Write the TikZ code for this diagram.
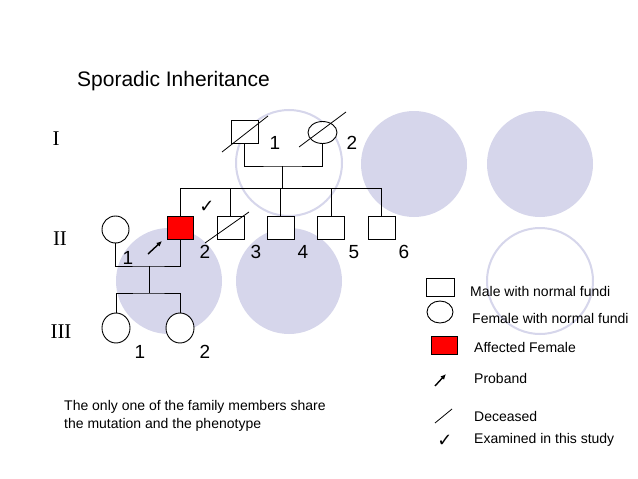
\documentclass[tikz,border=0pt]{standalone}
\usepackage{fontspec}
\setmainfont{Liberation Sans}
\newfontfamily\romfont{Liberation Serif}
\newfontfamily\symfont{DejaVu Sans}
\usetikzlibrary{shapes.geometric,arrows.meta}
\definecolor{lav}{RGB}{214,214,235}
\definecolor{affred}{RGB}{255,0,0}
\begin{document}
\begin{tikzpicture}[x=1pt,y=-1pt,
  male/.style={draw,rectangle,fill=white,minimum width=27pt,minimum height=23pt,inner sep=0pt,line width=0.9pt},
  female/.style={draw,ellipse,fill=white,minimum width=28pt,minimum height=27pt,inner sep=0pt,line width=0.9pt},
  affected/.style={male,fill=affred},
  numlab/.style={font=\fontsize{19}{19}\selectfont,inner sep=0pt},
  genlab/.style={font=\romfont\fontsize{21}{21}\selectfont,inner sep=0pt},
  legtxt/.style={font=\fontsize{14}{16}\selectfont,anchor=west,inner sep=0pt},
  link/.style={line width=0.9pt},
  slash/.style={line width=0.8pt},
  probarrow/.style={line width=1.4pt,-{Latex[length=5.5pt,width=5pt]}},
  checkmk/.style={font=\symfont\fontsize{18}{18}\selectfont,inner sep=0pt}
]
\useasboundingbox (0,0) rectangle (638,479);
\fill[white] (0,0) rectangle (638,479);
% background decorative circles
\draw[lav,line width=2pt,fill=white] (289,163) circle[radius=53pt];
\fill[lav] (414,164) circle[radius=53pt];
\fill[lav] (540,164) circle[radius=53pt];
\fill[lav] (169,281) circle[radius=53pt];
\fill[lav] (289,281) circle[radius=53pt];
\draw[lav,line width=2pt] (540,281) circle[radius=53pt];

% title
\node[anchor=west,inner sep=0pt,font=\fontsize{21}{21}\selectfont] (title) at (77,81) {Sporadic Inheritance};

% generation labels
\node[genlab] (gI) at (56,139) {I};
\node[genlab] (gII) at (60,239) {II};
\node[genlab] (gIII) at (61,332) {III};

% generation I
\node[male] (i1) at (244.5,131.5) {};
\node[female,minimum width=29pt,minimum height=22pt] (i2) at (322.5,132.5) {};
\draw[slash] ([shift={(-22.5,20.5)}]i1.center) -- ([shift={(23.5,-15.5)}]i1.center);
\draw[slash] ([shift={(-23.5,14.5)}]i2.center) -- ([shift={(23.5,-20.5)}]i2.center);
\node[numlab] (li1) at (275,143) {1};
\node[numlab] (li2) at (352,143) {2};
\coordinate (m1) at (282,166);
\coordinate (s1) at (282,188);
\draw[link] (i1.south) |- (m1) -| (i2.south);
\draw[link] (m1) -- (s1);

% generation II
\node[female,minimum width=27pt,minimum height=27pt] (ii1) at (115.5,229.5) {};
\node[affected,minimum width=26pt] (ii2) at (180,227.5) {};
\node[male] (ii3) at (230.5,227.5) {};
\node[male] (ii4) at (280.5,227.5) {};
\node[male] (ii5) at (331,227.5) {};
\node[male] (ii6) at (381.5,227.5) {};
\draw[link] (ii2.north) -- (ii2.north |- s1) -- (ii6.north |- s1) -- (ii6.north);
\draw[link] (ii3.north) -- (ii3.north |- s1);
\draw[link] (ii4.north) -- (ii4.north |- s1);
\draw[link] (ii5.north) -- (ii5.north |- s1);
\draw[slash] ([shift={(-25.5,15.5)}]ii3.center) -- ([shift={(18.5,-15.5)}]ii3.center);
\node[checkmk] (chk2) at (207,207) {✓};
\coordinate (pa0) at (148,254);
\coordinate (pa1) at (162,241);
\draw[probarrow] (pa0) -- (pa1);
\node[numlab] (lii1) at (128,258) {1};
\node[numlab] (lii2) at (205,252) {2};
\node[numlab] (lii3) at (256,252) {3};
\node[numlab] (lii4) at (303,252) {4};
\node[numlab] (lii5) at (354,252) {5};
\node[numlab] (lii6) at (404,252) {6};
\coordinate (m2) at (149,266);
\coordinate (s2) at (149,293);
\draw[link] (ii1.south) |- (m2) -| (ii2.south);
\draw[link] (m2) -- (s2);

% generation III
\node[female,minimum height=30pt] (iii1) at (116,328) {};
\node[female,minimum height=30pt] (iii2) at (180,328) {};
\draw[link] (iii1.north) |- (s2) -| (iii2.north);
\node[numlab] (liii1) at (140,352) {1};
\node[numlab] (liii2) at (205,352) {2};

% note
\node[anchor=west,inner sep=0pt,align=left,font=\fontsize{14}{17.5}\selectfont] (note) at (64,416) {The only one of the family members share\\the mutation and the phenotype};

% legend
\node[male,minimum width=28pt,minimum height=18pt] (kmale) at (440,287) {};
\node[legtxt] (tmale) at (470,291) {Male with normal fundi};
\node[female,minimum width=26pt,minimum height=22pt] (kfem) at (440,312) {};
\node[legtxt] (tfem) at (472,318) {Female with normal fundi};
\node[affected,minimum width=26pt,minimum height=18pt] (kaff) at (444,345) {};
\node[legtxt] (taff) at (474,347) {Affected Female};
\coordinate (kp0) at (435,386);
\coordinate (kp1) at (446,374);
\draw[probarrow] (kp0) -- (kp1);
\node[legtxt] (tprob) at (474,378) {Proband};
\coordinate (kd0) at (435,423);
\coordinate (kd1) at (452,409);
\draw[slash] (kd0) -- (kd1);
\node[legtxt] (tdec) at (474,416) {Deceased};
\node[checkmk] (kchk) at (445,441) {✓};
\node[legtxt] (texam) at (474,440) {Examined in this study};
\end{tikzpicture}
\end{document}
